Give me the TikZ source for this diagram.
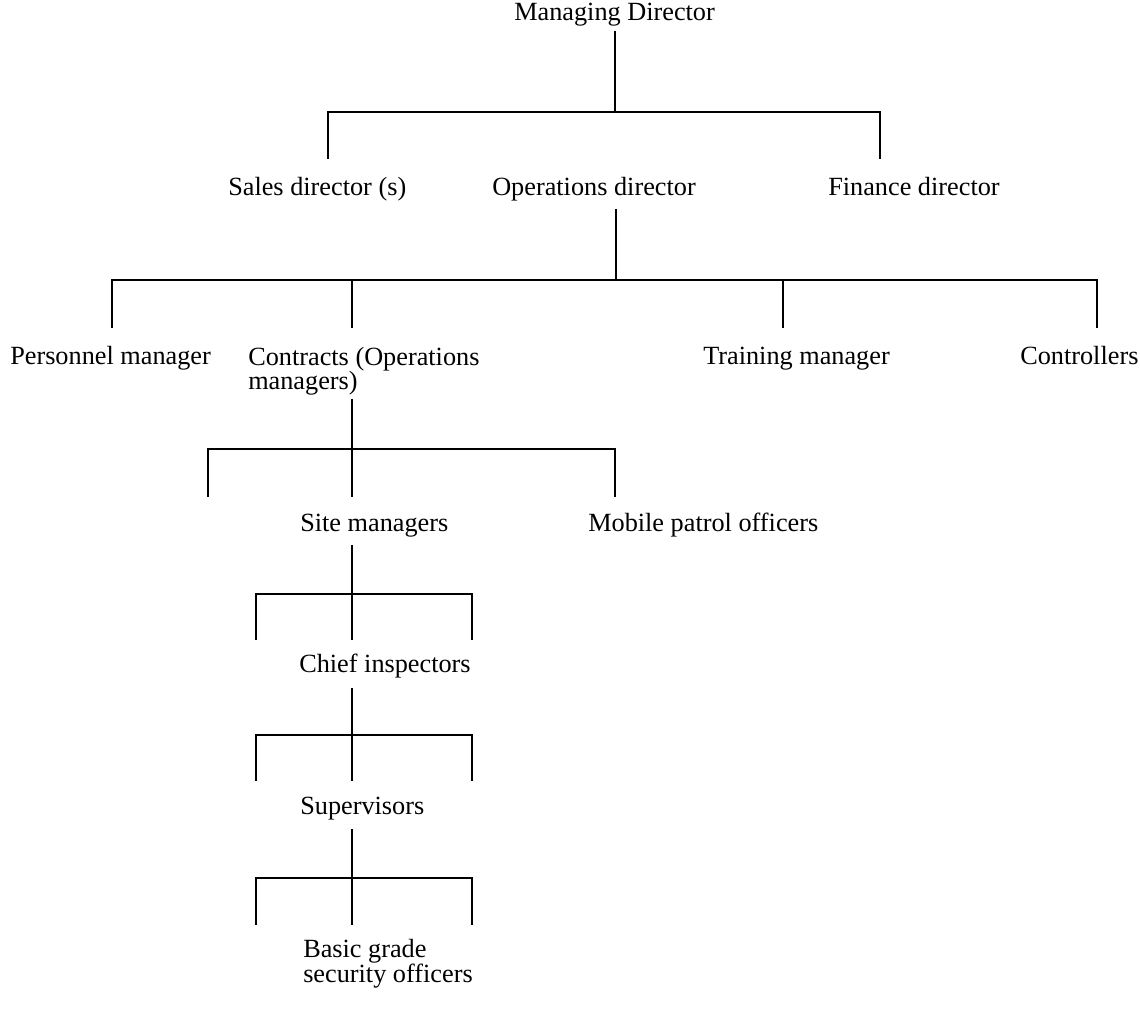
\documentclass[tikz,border=0pt]{standalone}
\usepackage{fontspec}
\setmainfont{Liberation Serif}
\usetikzlibrary{positioning}

\tikzset{
  post/.style={inner sep=0pt, anchor=base west, align=left,
    font=\fontsize{19.7pt}{18.6pt}\selectfont},
  link/.style={line width=1.5pt}
}

\begin{document}
\begin{tikzpicture}[x=0.75pt, y=-0.75pt]
  \useasboundingbox (0,0) rectangle (1140,1023);

  % Posts (two-line posts sit on their last line)
  \node[post] (md) at (514,21) {Managing Director};
  \node[post] (sales) at (228,196) {Sales director (s)};
  \node[post] (ops) at (492,196) {Operations director};
  \node[post] (fin) at (828,196) {Finance director};
  \node[post] (pers) at (10,365) {Personnel manager};
  \node[post] (contr) at (248,390) {Contracts (Operations\\managers)};
  \node[post] (train) at (703,365) {Training manager};
  \node[post] (ctrl) at (1020,365) {Controllers};
  \node[post] (site) at (300,532) {Site managers};
  \node[post] (mobile) at (588,532) {Mobile patrol officers};
  \node[post] (chief) at (299,672) {Chief inspectors};
  \node[post] (sup) at (300,814) {Supervisors};
  \node[post] (basic) at (303,982) {Basic grade\\ security officers};

  % Managing Director to the directors
  \coordinate (md-stem) at (615,31);
  \coordinate (md-bar) at (615,112);
  \coordinate (sales-drop) at (328,159);
  \coordinate (fin-drop) at (880,159);
  \draw[link] (md-stem) -- (md-bar);
  \draw[link] (sales-drop) |- (md-bar) -| (fin-drop);

  % Operations director to the managers
  \coordinate (ops-stem) at (616,209);
  \coordinate (ops-bar) at (616,280);
  \coordinate (pers-drop) at (112,328);
  \coordinate (contr-drop) at (352,328);
  \coordinate (train-drop) at (783,328);
  \coordinate (ctrl-drop) at (1097,328);
  \draw[link] (ops-stem) -- (ops-bar);
  \draw[link] (pers-drop) |- (ops-bar) -| (ctrl-drop);
  \draw[link] (contr-drop) -- (contr-drop |- ops-bar);
  \draw[link] (train-drop) -- (train-drop |- ops-bar);

  % Contracts to site managers and mobile patrols
  \coordinate (contr-stem) at (352,399);
  \coordinate (contr-bar) at (352,449);
  \coordinate (left-drop) at (208,497);
  \coordinate (site-drop) at (352,497);
  \coordinate (mobile-drop) at (615,497);
  \draw[link] (contr-stem) -- (site-drop);
  \draw[link] (left-drop) |- (contr-bar) -| (mobile-drop);

  % Lower ranks, one bracket each
  \foreach \top/\bar/\drop [count=\i] in {545/594/640, 688/735/781, 829/878/925}{
    \coordinate (stem-\i) at (352,\top);
    \coordinate (bar-\i) at (352,\bar);
    \coordinate (ldrop-\i) at (256,\drop);
    \coordinate (rdrop-\i) at (472,\drop);
    \draw[link] (stem-\i) -- (bar-\i |- ldrop-\i);
    \draw[link] (ldrop-\i) |- (bar-\i) -| (rdrop-\i);
  }
\end{tikzpicture}
\end{document}
